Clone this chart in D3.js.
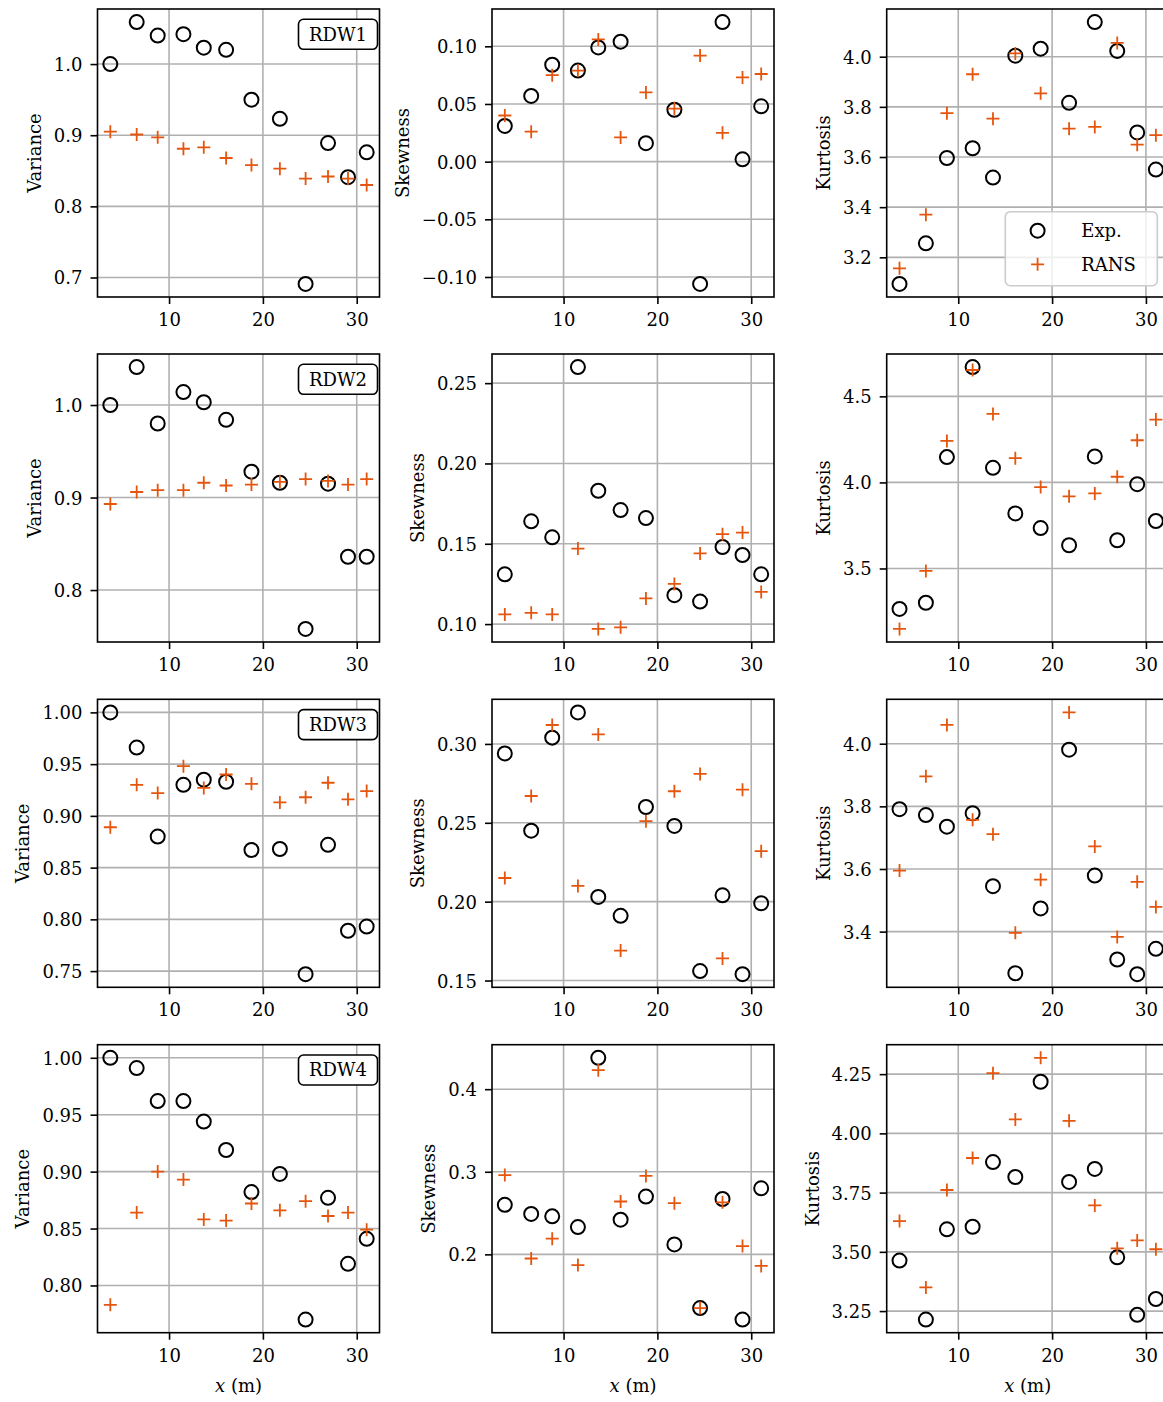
<!DOCTYPE html>
<html>
<head>
<meta charset="utf-8">
<script src="https://cdn.jsdelivr.net/npm/d3@7/dist/d3.min.js"></script>
<style>
  body { margin: 0; background: #fff; }
  svg { display: block; }
</style>
</head>
<body>
<svg id="chart" width="1163" height="1402"></svg>
<script>
// ---------------- data ----------------
const xPositions = [3.74, 6.55, 8.79, 11.53, 13.70, 16.08, 18.78, 21.81, 24.55, 26.94, 29.07, 31.06];
const caseLabels = ["RDW1", "RDW2", "RDW3", "RDW4"];
const statLabels = ["Variance", "Skewness", "Kurtosis"];
const seriesLabels = ["Exp.", "RANS"];
const xTicks = [10, 20, 30];

const varianceExp = [
  [1.000, 1.059, 1.040, 1.042, 1.023, 1.020, 0.950, 0.923, 0.691, 0.889, 0.841, 0.876],
  [1.000, 1.041, 0.980, 1.014, 1.003, 0.984, 0.928, 0.916, 0.758, 0.915, 0.836, 0.836],
  [1.000, 0.966, 0.880, 0.930, 0.935, 0.933, 0.867, 0.868, 0.747, 0.872, 0.789, 0.793],
  [1.000, 0.991, 0.962, 0.962, 0.944, 0.919, 0.882, 0.898, 0.770, 0.877, 0.819, 0.841]
];
const varianceRans = [
  [0.905, 0.901, 0.897, 0.881, 0.883, 0.868, 0.858, 0.853, 0.839, 0.842, 0.839, 0.830],
  [0.893, 0.906, 0.908, 0.908, 0.916, 0.913, 0.914, 0.917, 0.920, 0.918, 0.914, 0.920],
  [0.889, 0.930, 0.922, 0.948, 0.927, 0.940, 0.931, 0.913, 0.918, 0.932, 0.916, 0.924],
  [0.783, 0.864, 0.900, 0.893, 0.858, 0.857, 0.872, 0.866, 0.874, 0.861, 0.864, 0.849]
];
const skewnessExp = [
  [0.031, 0.057, 0.084, 0.079, 0.099, 0.104, 0.016, 0.045, -0.106, 0.121, 0.002, 0.048],
  [0.131, 0.164, 0.154, 0.260, 0.183, 0.171, 0.166, 0.118, 0.114, 0.148, 0.143, 0.131],
  [0.294, 0.245, 0.304, 0.320, 0.203, 0.191, 0.260, 0.248, 0.156, 0.204, 0.154, 0.199],
  [0.260, 0.249, 0.246, 0.233, 0.438, 0.242, 0.270, 0.212, 0.135, 0.267, 0.121, 0.280]
];
const skewnessRans = [
  [0.040, 0.026, 0.075, 0.079, 0.106, 0.021, 0.060, 0.046, 0.092, 0.025, 0.073, 0.076],
  [0.106, 0.107, 0.106, 0.147, 0.097, 0.098, 0.116, 0.125, 0.144, 0.156, 0.157, 0.120],
  [0.215, 0.267, 0.312, 0.210, 0.306, 0.169, 0.251, 0.270, 0.281, 0.164, 0.271, 0.232],
  [0.296, 0.195, 0.219, 0.187, 0.423, 0.264, 0.295, 0.262, 0.135, 0.263, 0.210, 0.186]
];
const kurtosisExp = [
  [3.094, 3.256, 3.596, 3.635, 3.518, 4.004, 4.032, 3.816, 4.138, 4.023, 3.698, 3.550],
  [3.265, 3.301, 4.147, 4.670, 4.085, 3.820, 3.735, 3.635, 4.151, 3.664, 3.990, 3.776],
  [3.791, 3.772, 3.735, 3.778, 3.545, 3.267, 3.474, 3.981, 3.579, 3.311, 3.264, 3.345],
  [3.463, 3.214, 3.595, 3.606, 3.879, 3.816, 4.218, 3.795, 3.850, 3.477, 3.234, 3.301]
];
const kurtosisRans = [
  [3.156, 3.370, 3.775, 3.930, 3.753, 4.013, 3.854, 3.713, 3.720, 4.055, 3.649, 3.687],
  [3.149, 3.486, 4.241, 4.653, 4.398, 4.141, 3.973, 3.919, 3.936, 4.033, 4.245, 4.365],
  [3.595, 3.896, 4.060, 3.757, 3.711, 3.396, 3.566, 4.100, 3.672, 3.383, 3.559, 3.479],
  [3.630, 3.350, 3.761, 3.896, 4.254, 4.059, 4.319, 4.053, 3.696, 3.515, 3.548, 3.511]
];

// tick labels (as printed on each panel's y axis)
const varianceTicks = [
  ["0.7", "0.8", "0.9", "1.0"],
  ["0.8", "0.9", "1.0"],
  ["0.75", "0.80", "0.85", "0.90", "0.95", "1.00"],
  ["0.80", "0.85", "0.90", "0.95", "1.00"]
];
const skewnessTicks = [
  ["-0.10", "-0.05", "0.00", "0.05", "0.10"],
  ["0.10", "0.15", "0.20", "0.25"],
  ["0.15", "0.20", "0.25", "0.30"],
  ["0.2", "0.3", "0.4"]
];
const kurtosisTicks = [
  ["3.2", "3.4", "3.6", "3.8", "4.0"],
  ["3.5", "4.0", "4.5"],
  ["3.4", "3.6", "3.8", "4.0"],
  ["3.25", "3.50", "3.75", "4.00", "4.25"]
];

// ---------------- layout / style ----------------
const FONT = "'DejaVu Serif', 'Liberation Serif', serif";
const FS = 18;
const W = 282, H = 288;
const colLeft = [97.5, 492, 886.7];
const rowTop = [9, 354, 699.3, 1044.7];
const RANS_COLOR = "#e6550d";
const GRID_COLOR = "#b0b0b0";

const expByStat = [varianceExp, skewnessExp, kurtosisExp];
const ransByStat = [varianceRans, skewnessRans, kurtosisRans];
const ticksByStat = [varianceTicks, skewnessTicks, kurtosisTicks];

const svg = d3.select("#chart");
svg.append("rect").attr("width", 1163).attr("height", 1402).attr("fill", "#fff");

function padDomain(vals) {
  const lo = d3.min(vals), hi = d3.max(vals);
  const p = 0.05 * (hi - lo);
  return [lo - p, hi + p];
}
const xDomain = padDomain(xPositions);

for (let r = 0; r < 4; r++) {
  for (let c = 0; c < 3; c++) {
    const left = colLeft[c], top = rowTop[r];
    const exp = expByStat[c][r], rans = ransByStat[c][r];
    const tickLabels = ticksByStat[c][r];
    const ticks = tickLabels.map(Number);
    const labelOf = new Map(ticks.map((v, i) => [v, tickLabels[i].replace("-", "\u2212")]));
    const x = d3.scaleLinear().domain(xDomain).range([left, left + W]);
    const y = d3.scaleLinear().domain(padDomain(exp.concat(rans))).range([top + H, top]);
    const g = svg.append("g").attr("class", "panel");

    // grid
    g.append("g").selectAll("line").data(ticks).join("line")
      .attr("x1", left).attr("x2", left + W)
      .attr("y1", d => y(d)).attr("y2", d => y(d))
      .attr("stroke", GRID_COLOR).attr("stroke-width", 1.6);
    g.append("g").selectAll("line").data(xTicks).join("line")
      .attr("x1", d => x(d)).attr("x2", d => x(d))
      .attr("y1", top).attr("y2", top + H)
      .attr("stroke", GRID_COLOR).attr("stroke-width", 1.6);

    // y axis
    const yAxis = g.append("g").attr("transform", `translate(${left},0)`)
      .call(d3.axisLeft(y).tickValues(ticks).tickSize(7).tickPadding(8).tickFormat(v => labelOf.get(v)));
    yAxis.select(".domain").remove();
    yAxis.selectAll("line").attr("stroke", "#000").attr("stroke-width", 1.6);
    yAxis.selectAll("text").attr("font-family", FONT).attr("font-size", FS)
      .attr("fill", "#000").attr("dy", "0.36em");

    // x axis
    const xAxis = g.append("g").attr("transform", `translate(0,${top + H})`)
      .call(d3.axisBottom(x).tickValues(xTicks).tickSize(7).tickPadding(8).tickFormat(d3.format("d")));
    xAxis.select(".domain").remove();
    xAxis.selectAll("line").attr("stroke", "#000").attr("stroke-width", 1.6);
    xAxis.selectAll("text").attr("font-family", FONT).attr("font-size", FS)
      .attr("fill", "#000").attr("y", 29).attr("dy", null);

    // y label placed left of the widest tick label
    let maxW = 0;
    yAxis.selectAll("text").each(function () { maxW = Math.max(maxW, this.getComputedTextLength()); });
    const labelX = left - 15 - maxW - 13;
    g.append("text")
      .attr("transform", `translate(${labelX},${top + H / 2}) rotate(-90)`)
      .attr("text-anchor", "middle")
      .attr("font-family", FONT).attr("font-size", FS).attr("fill", "#000")
      .text(statLabels[c]);

    // data: Exp circles then RANS pluses
    g.append("g").selectAll("circle").data(exp).join("circle")
      .attr("cx", (d, i) => x(xPositions[i])).attr("cy", d => y(d))
      .attr("r", 7).attr("fill", "none").attr("stroke", "#000").attr("stroke-width", 2);
    g.append("g").selectAll("path").data(rans).join("path")
      .attr("transform", (d, i) => `translate(${x(xPositions[i])},${y(d)})`)
      .attr("d", "M-6.5,0H6.5M0,-6.5V6.5")
      .attr("stroke", RANS_COLOR).attr("stroke-width", 1.8).attr("fill", "none");

    // frame
    g.append("rect").attr("x", left).attr("y", top).attr("width", W).attr("height", H)
      .attr("fill", "none").attr("stroke", "#000").attr("stroke-width", 1.6);

    // case label box
    if (c === 0) {
      const bw = 79, bh = 30;
      const bx = left + W - 2 - bw, by = top + 10.3;
      g.append("rect").attr("x", bx).attr("y", by).attr("width", bw).attr("height", bh)
        .attr("rx", 5).attr("ry", 5).attr("fill", "#fff")
        .attr("stroke", "#000").attr("stroke-width", 1.6);
      g.append("text").attr("x", bx + bw / 2).attr("y", by + bh / 2).attr("dy", "0.36em")
        .attr("text-anchor", "middle").attr("font-family", FONT).attr("font-size", FS)
        .attr("fill", "#000").text(caseLabels[r]);
    }

    // x label on bottom row
    if (r === 3) {
      const t = g.append("text").attr("x", left + W / 2).attr("y", top + H + 59)
        .attr("text-anchor", "middle").attr("font-family", FONT).attr("font-size", FS).attr("fill", "#000");
      t.append("tspan").attr("font-style", "italic").text("x");
      t.append("tspan").text(" (m)");
    }

    // legend in first row, last column
    if (r === 0 && c === 2) {
      const lw = 152, lh = 74;
      const lx = left + W - 11.4 - lw, ly = top + H - 11.3 - lh;
      const lg = g.append("g");
      lg.append("rect").attr("x", lx).attr("y", ly).attr("width", lw).attr("height", lh)
        .attr("rx", 5).attr("ry", 5).attr("fill", "#fff").attr("fill-opacity", 0.8)
        .attr("stroke", "#cccccc").attr("stroke-width", 1.6);
      [0, 1].forEach(k => {
        const my = ly + 19 + k * 33.6;
        if (k === 0) {
          lg.append("circle").attr("cx", lx + 32.3).attr("cy", my).attr("r", 7)
            .attr("fill", "none").attr("stroke", "#000").attr("stroke-width", 2);
        } else {
          lg.append("path").attr("transform", `translate(${lx + 32.3},${my})`)
            .attr("d", "M-6.5,0H6.5M0,-6.5V6.5")
            .attr("stroke", RANS_COLOR).attr("stroke-width", 1.8).attr("fill", "none");
        }
        lg.append("text").attr("x", lx + 76).attr("y", my).attr("dy", "0.36em")
          .attr("font-family", FONT).attr("font-size", FS).attr("fill", "#000")
          .text(seriesLabels[k]);
      });
    }
  }
}
</script>
</body>
</html>
